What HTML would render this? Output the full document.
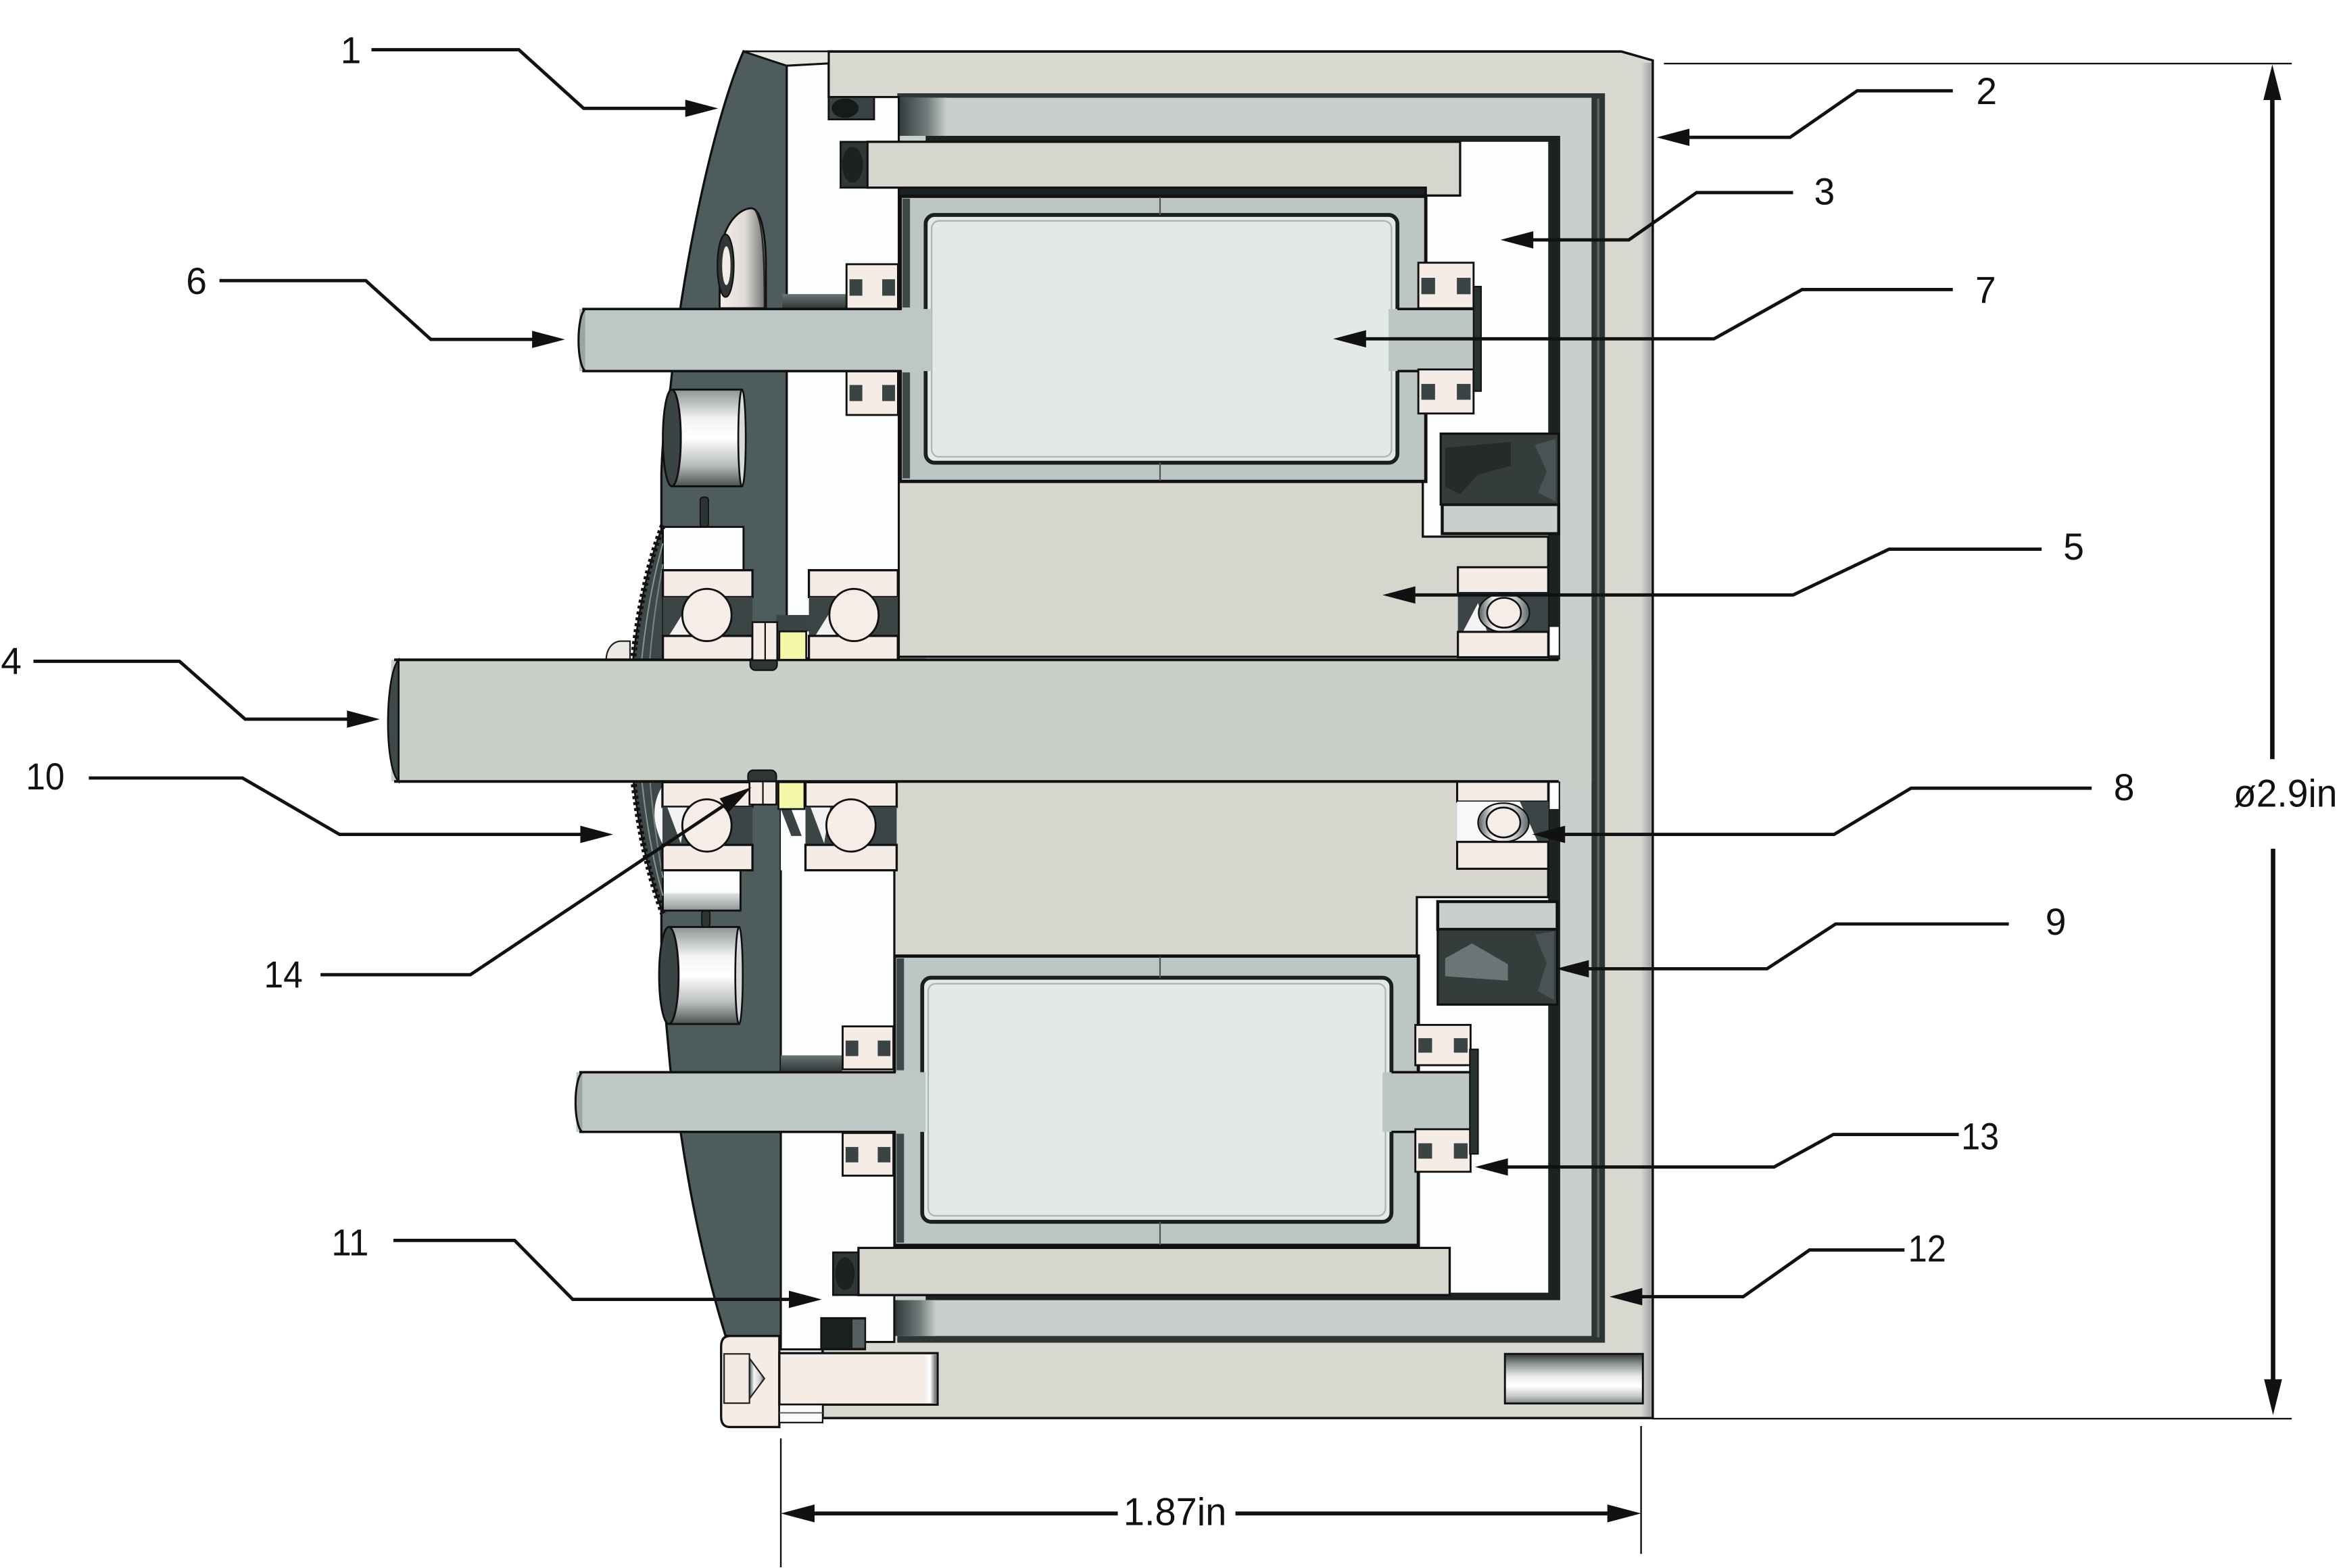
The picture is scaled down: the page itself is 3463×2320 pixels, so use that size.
<!DOCTYPE html>
<html><head><meta charset="utf-8"><style>
html,body{margin:0;padding:0;background:#fff;}
svg{display:block;}
text{font-family:"Liberation Sans",Arial,sans-serif;fill:#111;}
</style></head><body>
<svg width="3463" height="2320" viewBox="0 0 1568 1050.44" preserveAspectRatio="none" xmlns="http://www.w3.org/2000/svg">
<defs>
<linearGradient id="gDarkH" x1="0" y1="0" x2="1" y2="0"><stop offset="0" stop-color="#2f3838"/><stop offset="0.6" stop-color="#6f7a7a"/><stop offset="1" stop-color="#c9cfca"/></linearGradient>
<linearGradient id="gStub" x1="0" y1="0" x2="0" y2="1"><stop offset="0" stop-color="#6a7474"/><stop offset="1" stop-color="#2c3333"/></linearGradient>
<linearGradient id="gPin" x1="0" y1="0" x2="0" y2="1"><stop offset="0" stop-color="#8d9494"/><stop offset="0.3" stop-color="#f2f3f3"/><stop offset="0.5" stop-color="#ffffff"/><stop offset="0.78" stop-color="#b9bdbd"/><stop offset="1" stop-color="#4b5252"/></linearGradient>
<linearGradient id="gHole" x1="0" y1="0" x2="0" y2="1"><stop offset="0" stop-color="#2f3737"/><stop offset="0.2" stop-color="#8d9494"/><stop offset="0.45" stop-color="#e9ebeb"/><stop offset="0.65" stop-color="#ffffff"/><stop offset="0.85" stop-color="#c5c9c9"/><stop offset="1" stop-color="#7c8383"/></linearGradient>
<linearGradient id="gScrew" x1="0" y1="0" x2="1" y2="0"><stop offset="0" stop-color="#f4eeea"/><stop offset="0.55" stop-color="#dedad7"/><stop offset="1" stop-color="#6d7171"/></linearGradient>
<linearGradient id="gRing" x1="0" y1="0" x2="1" y2="0"><stop offset="0" stop-color="#555d5d"/><stop offset="0.3" stop-color="#f5f5f5"/><stop offset="0.7" stop-color="#d0d3d3"/><stop offset="1" stop-color="#5b6363"/></linearGradient>
<linearGradient id="gEndH" x1="0" y1="0" x2="1" y2="0"><stop offset="0" stop-color="#f6ece6"/><stop offset="0.5" stop-color="#ffffff"/><stop offset="1" stop-color="#5d6464"/></linearGradient>
<linearGradient id="gEdge" x1="0" y1="0" x2="1" y2="0"><stop offset="0" stop-color="#d8d8d0"/><stop offset="1" stop-color="#9ea3a0"/></linearGradient>
<linearGradient id="gBlockV" x1="0" y1="0" x2="0" y2="1"><stop offset="0" stop-color="#fcfdfd"/><stop offset="0.55" stop-color="#fcfdfd"/><stop offset="0.6" stop-color="#d8dcdc"/><stop offset="1" stop-color="#8e9696"/></linearGradient>
</defs>
<rect width="1568" height="1050.44" fill="#fff"/>

<!-- Housing -->
<path d="M555,34.5 L1086,34.5 L1107,40.5 L1107,950 L551,950 L551,899 L555,899 Z" fill="#d8d8d0" stroke="#111" stroke-width="1.6"/>
<rect x="1099" y="42" width="7" height="907" fill="url(#gEdge)"/>
<rect x="601" y="62.5" width="474" height="837" fill="#2e3535"/>
<line x1="1070.5" y1="66" x2="1070.5" y2="896" stroke="#5a6464" stroke-width="1.5"/>
<rect x="601" y="65.5" width="465" height="829.5" fill="#c9cfca"/>
<rect x="620" y="91" width="425" height="780" fill="#1c2121"/>
<rect x="620" y="95" width="417" height="771" fill="#fcfdfd"/>
<rect x="601" y="65.5" width="33" height="25.5" fill="url(#gDarkH)"/>
<rect x="599" y="871" width="28" height="24" fill="url(#gDarkH)"/>
<rect x="601" y="125" width="354" height="7" fill="#1c2121"/>

<!-- Rotor bodies -->
<path d="M601,322 H953 V359.5 H1037 V440 H601 Z" fill="#d6d6ce" stroke="#111" stroke-width="1.5"/>
<path d="M599,523.5 H1037 V601 H949 V640.5 H599 Z" fill="#d6d6ce" stroke="#111" stroke-width="1.5"/>

<!-- Liner flanges & seals (9) -->
<rect x="966" y="338" width="78" height="19.5" fill="#c9cfca" stroke="#111" stroke-width="2"/>
<rect x="965" y="290.5" width="79" height="47.5" fill="#353c3c" stroke="#111" stroke-width="1.5"/>
<path d="M968,300 L1012,296 L1012,312 L990,318 L978,331 L968,326 Z" fill="#252b2b"/>
<path d="M1028,298 L1042,294 L1042,336 L1030,330 L1036,316 Z" fill="#4a5353"/>
<rect x="963" y="604" width="80" height="18.6" fill="#c9cfca" stroke="#111" stroke-width="2"/>
<rect x="963" y="622.6" width="80" height="50.4" fill="#353c3c" stroke="#111" stroke-width="1.5"/>
<path d="M968,642 L986,632 L1010,646 L1010,657 L968,654 Z" fill="#6c7575"/>
<path d="M1028,626 L1041,624 L1041,670 L1030,664 L1036,645 Z" fill="#4a5353"/>

<!-- Bearing 8 upper -->
<rect x="976.5" y="380" width="60.5" height="17.3" fill="#f6ece6" stroke="#111" stroke-width="1.4"/>
<rect x="976.5" y="397.3" width="60.5" height="26" fill="#3b4545"/>
<path d="M980,423 L990,404 L996,423 Z" fill="#f4f4f4"/>
<ellipse cx="1007.4" cy="410.5" rx="17" ry="13" fill="url(#gRing)" stroke="#111" stroke-width="1"/>
<ellipse cx="1007.4" cy="410.5" rx="11.3" ry="10" fill="#f7ede8" stroke="#111" stroke-width="1.2"/>
<rect x="976.5" y="423.3" width="60.5" height="17" fill="#f6ece6" stroke="#111" stroke-width="1.4"/>
<rect x="1038" y="420" width="6" height="19" fill="#fcfdfd"/>
<!-- Bearing 8 lower -->
<rect x="976" y="520" width="61" height="17" fill="#f6ece6" stroke="#111" stroke-width="1.4"/>
<rect x="976" y="537" width="61" height="27" fill="#f8f8f8"/>
<path d="M1018,537 L1037,537 L1037,564 L1030,564 Z" fill="#3b4545"/>
<ellipse cx="1007" cy="551" rx="17" ry="13" fill="url(#gRing)" stroke="#111" stroke-width="1"/>
<ellipse cx="1007" cy="551" rx="11.3" ry="10" fill="#f7ede8" stroke="#111" stroke-width="1.2"/>
<rect x="976" y="564" width="61" height="18" fill="#f6ece6" stroke="#111" stroke-width="1.4"/>
<rect x="1038" y="524" width="6" height="18" fill="#fcfdfd"/>

<!-- Coil frames -->
<rect x="603" y="131.5" width="352" height="191" fill="#bcc6c5" stroke="#111" stroke-width="2.2"/>
<rect x="604.5" y="133" width="5" height="73" fill="#3e4848"/>
<rect x="604.5" y="249.5" width="5" height="71" fill="#3e4848"/>
<rect x="620" y="144" width="316" height="166" rx="6" fill="#e3e9e7" stroke="#1a1f1f" stroke-width="2.6"/>
<rect x="624" y="148" width="308" height="158" rx="5" fill="none" stroke="#aab4b3" stroke-width="1"/>
<line x1="777" y1="132" x2="777" y2="144" stroke="#555" stroke-width="1"/>
<line x1="777" y1="310" x2="777" y2="322" stroke="#555" stroke-width="1"/>
<rect x="930" y="207" width="60" height="41.6" fill="#bcc6c5"/>
<path d="M936,207 H990 V248.6 H936" fill="none" stroke="#111" stroke-width="1.6"/>

<rect x="599" y="640.5" width="351" height="193.8" fill="#bcc6c5" stroke="#111" stroke-width="2.2"/>
<rect x="600.5" y="642" width="5" height="75" fill="#3e4848"/>
<rect x="600.5" y="759.5" width="5" height="73" fill="#3e4848"/>
<rect x="617.7" y="655" width="314.3" height="163.5" rx="6" fill="#e3e9e7" stroke="#1a1f1f" stroke-width="2.6"/>
<rect x="621.7" y="659" width="306.3" height="155.5" rx="5" fill="none" stroke="#aab4b3" stroke-width="1"/>
<line x1="777" y1="641" x2="777" y2="655" stroke="#555" stroke-width="1"/>
<line x1="777" y1="818.5" x2="777" y2="834" stroke="#555" stroke-width="1"/>
<rect x="926" y="718.3" width="61" height="40" fill="#bcc6c5"/>
<path d="M932,718.3 H987 V758.3 H932" fill="none" stroke="#111" stroke-width="1.6"/>

<!-- right small bearings + clips -->
<rect x="950" y="176" width="37" height="30.5" fill="#f6ece6" stroke="#111" stroke-width="1.3"/>
<rect x="952" y="186.1" width="9.2" height="11" fill="#3a4444"/><rect x="975.8" y="186.1" width="9.2" height="11" fill="#3a4444"/>
<rect x="950" y="247.5" width="37" height="29.5" fill="#f6ece6" stroke="#111" stroke-width="1.3"/>
<rect x="952" y="257.2" width="9.2" height="10.6" fill="#3a4444"/><rect x="975.8" y="257.2" width="9.2" height="10.6" fill="#3a4444"/>
<rect x="987" y="192" width="5" height="70" fill="#2a3232" stroke="#111" stroke-width="1"/>
<rect x="948" y="686.6" width="37" height="27" fill="#f6ece6" stroke="#111" stroke-width="1.3"/>
<rect x="950" y="695.5" width="9.2" height="9.7" fill="#3a4444"/><rect x="973.8" y="695.5" width="9.2" height="9.7" fill="#3a4444"/>
<rect x="948" y="756.5" width="37" height="28.5" fill="#f6ece6" stroke="#111" stroke-width="1.3"/>
<rect x="950" y="765.9" width="9.2" height="10.3" fill="#3a4444"/><rect x="973.8" y="765.9" width="9.2" height="10.3" fill="#3a4444"/>
<rect x="984.5" y="703" width="5.5" height="70" fill="#2a3232" stroke="#111" stroke-width="1"/>

<!-- Flange (1) -->
<path d="M498,34.4 L527,44 L527,442 L523,442 L523,895 L486,895 C472,850 462,800 456,759 L449,716 L443,650 L443,317 C444,290 446,275 449,260 C458,170 480,75 498,34.4 Z" fill="#4e5c5e" stroke="#111" stroke-width="1.5"/>
<path d="M498,34.4 L555,34.4 L555,42.5 L527,44 Z" fill="#e6e7e3" stroke="#111" stroke-width="1.2"/>

<!-- Bracket white -->
<path d="M527,44 L555,42.5 L555,65 L602,65 L602,441 L527,441 Z" fill="#fcfdfd" stroke="#111" stroke-width="1.4"/>
<path d="M523,523.5 L599,523.5 L599,899 L551,899 L551,904 L523,904 Z" fill="#fcfdfd" stroke="#111" stroke-width="1.4"/>

<!-- Rotor bands (after bracket) -->
<path d="M581,95 H978 V131 H955 V125.7 H581 Z" fill="#d6d6ce" stroke="#111" stroke-width="1.5"/>
<path d="M575,836 H971 V867.6 H575 Z" fill="#d6d6ce" stroke="#111" stroke-width="1.5"/>

<!-- O-rings -->
<rect x="555" y="65" width="30.5" height="15" fill="#3a4343" stroke="#111" stroke-width="1.2"/>
<ellipse cx="566" cy="72.5" rx="9" ry="6.5" fill="#151a1a"/>
<rect x="563" y="95" width="18" height="30.7" fill="#2f3737" stroke="#111" stroke-width="1.2"/>
<ellipse cx="571" cy="110.3" rx="7" ry="12" fill="#1c2222"/>
<rect x="558" y="839" width="17" height="28.6" fill="#2f3737" stroke="#111" stroke-width="1.2"/>
<ellipse cx="566" cy="853.3" rx="6.5" ry="11" fill="#1c2222"/>
<rect x="550" y="883" width="29.5" height="21" fill="#1a1f1f" stroke="#111" stroke-width="1.2"/>
<rect x="571" y="884" width="8" height="19" fill="#555f5f"/>

<!-- dark stubs -->
<rect x="524" y="197" width="43" height="10" fill="url(#gStub)"/>
<rect x="523" y="707" width="41" height="11.3" fill="url(#gStub)"/>

<!-- left small bearings -->
<rect x="567" y="177" width="34.5" height="30.5" fill="#f6ece6" stroke="#111" stroke-width="1.3"/>
<rect x="569" y="187.1" width="8.6" height="11" fill="#3a4444"/><rect x="590.9" y="187.1" width="8.6" height="11" fill="#3a4444"/>
<rect x="567" y="248" width="34.5" height="30" fill="#f6ece6" stroke="#111" stroke-width="1.3"/>
<rect x="569" y="257.9" width="8.6" height="10.8" fill="#3a4444"/><rect x="590.9" y="257.9" width="8.6" height="10.8" fill="#3a4444"/>
<rect x="564.4" y="687.6" width="34" height="28.8" fill="#f6ece6" stroke="#111" stroke-width="1.3"/>
<rect x="566.4" y="697.1" width="8.5" height="10.4" fill="#3a4444"/><rect x="587.9" y="697.1" width="8.5" height="10.4" fill="#3a4444"/>
<rect x="564.4" y="759" width="34" height="28.6" fill="#f6ece6" stroke="#111" stroke-width="1.3"/>
<rect x="566.4" y="768.4" width="8.5" height="10.3" fill="#3a4444"/><rect x="587.9" y="768.4" width="8.5" height="10.3" fill="#3a4444"/>

<!-- Shafts 6 -->
<rect x="388" y="207" width="236" height="41.6" fill="#bcc7c6"/>
<line x1="390" y1="207" x2="604" y2="207" stroke="#111" stroke-width="1.6"/>
<line x1="390" y1="248.6" x2="604" y2="248.6" stroke="#111" stroke-width="1.6"/>
<path d="M392,207 C386,212 386,244 392,248.6" fill="#9aa5a4" stroke="#111" stroke-width="1.4"/>
<rect x="386" y="718.3" width="234" height="40" fill="#bcc7c6"/>
<line x1="388" y1="718.3" x2="600" y2="718.3" stroke="#111" stroke-width="1.6"/>
<line x1="388" y1="758.3" x2="600" y2="758.3" stroke="#111" stroke-width="1.6"/>
<path d="M390,718.3 C384,723 384,754 390,758.3" fill="#9aa5a4" stroke="#111" stroke-width="1.4"/>

<!-- Screw head on flange -->
<path d="M482,206.5 L482,178 C482,152 494,140 503,139.5 C510,139.5 513,158 513,178 L513,206.5 Z" fill="url(#gScrew)" stroke="#111" stroke-width="1.3"/>
<path d="M506,141 C511,150 512,170 512,206" fill="none" stroke="#222" stroke-width="1"/>
<ellipse cx="486" cy="178" rx="5.5" ry="21" fill="#2e3636" stroke="#111" stroke-width="1"/>
<ellipse cx="486.5" cy="178" rx="2.8" ry="13" fill="#f3ece8"/>

<!-- cylinder pins -->
<rect x="450" y="261" width="47" height="64.8" fill="url(#gPin)" stroke="#111" stroke-width="1.3"/>
<ellipse cx="497" cy="293.4" rx="2.5" ry="32.4" fill="#d7dada" stroke="#111" stroke-width="1.2"/>
<ellipse cx="450" cy="293.4" rx="6" ry="32.4" fill="#3a4444" stroke="#111" stroke-width="1.3"/>
<rect x="448" y="621" width="47" height="65" fill="url(#gPin)" stroke="#111" stroke-width="1.3"/>
<ellipse cx="495" cy="653.5" rx="2.5" ry="32.5" fill="#d7dada" stroke="#111" stroke-width="1.2"/>
<ellipse cx="448" cy="653.5" rx="6.5" ry="32.5" fill="#3a4444" stroke="#111" stroke-width="1.3"/>
<rect x="469" y="333" width="5.5" height="20" rx="2" fill="#2c3434" stroke="#111" stroke-width="0.8"/>
<rect x="470" y="610" width="5.5" height="11" rx="2" fill="#2c3434" stroke="#111" stroke-width="0.8"/>

<!-- white blocks -->
<rect x="444" y="353" width="54" height="29" fill="#fcfdfd" stroke="#111" stroke-width="1.3"/>
<rect x="443" y="583" width="53" height="27" fill="url(#gBlockV)" stroke="#111" stroke-width="1.3"/>

<!-- Gear (10) -->
<path d="M444,352 C433,380 424,420 421,482 C424,540 432,580 444,612 Z" fill="#3d4848" stroke="#111" stroke-width="1.2"/>
<path d="M444,352 C433,380 424,420 421,482 C424,540 432,580 444,612" fill="none" stroke="#111" stroke-width="4" stroke-dasharray="2 2"/>
<path d="M444,364 C436,392 429,432 427,482 C429,532 436,572 444,600" fill="none" stroke="#8a9595" stroke-width="0.9"/>
<path d="M444,378 C439,404 434,440 433,482 C434,524 439,560 444,588" fill="none" stroke="#7a8585" stroke-width="0.9"/>
<path d="M406,442.5 C406,434 411,429.5 416,429.5 L422,429.5 L422,442.5 Z" fill="#ece8e4" stroke="#222" stroke-width="1"/>
<path d="M444,526 C437,537 436,550 444,566 Z" fill="#f6f6f6"/>

<!-- Main shaft (4) -->
<rect x="262" y="442" width="804" height="81.5" fill="#cacfc8"/>
<line x1="264" y1="442" x2="1044" y2="442" stroke="#111" stroke-width="1.8"/>
<line x1="264" y1="523.5" x2="1044" y2="523.5" stroke="#111" stroke-width="1.8"/>
<path d="M267,442 C258,452 257,513 267,523.5 Z" fill="#3f4949" stroke="#111" stroke-width="1.2"/>

<!-- Bearings 10 upper -->
<rect x="444" y="382" width="60" height="18" fill="#f6ece6" stroke="#111" stroke-width="1.5"/>
<rect x="444" y="400" width="60" height="26" fill="#3b4545"/>
<path d="M448,426 L458,410 L462,426 Z" fill="#f2f2f2"/>
<rect x="444" y="426" width="60" height="16" fill="#f6ece6" stroke="#111" stroke-width="1.5"/>
<ellipse cx="473.5" cy="412" rx="16.5" ry="17.5" fill="#f7ede8" stroke="#111" stroke-width="1.3"/>
<rect x="541.8" y="382" width="59.6" height="18" fill="#f6ece6" stroke="#111" stroke-width="1.5"/>
<rect x="541.8" y="400" width="59.6" height="26" fill="#3b4545"/>
<path d="M546,426 L556,410 L560,426 Z" fill="#f2f2f2"/>
<rect x="541.8" y="426" width="59.6" height="16" fill="#f6ece6" stroke="#111" stroke-width="1.5"/>
<ellipse cx="572" cy="412" rx="16.5" ry="17.5" fill="#f7ede8" stroke="#111" stroke-width="1.3"/>
<!-- collar 14 / key upper -->
<rect x="520" y="412" width="22" height="11" fill="#3a4444"/>
<rect x="502.5" y="440" width="18" height="9" rx="3.5" fill="#2e3636" stroke="#111" stroke-width="1"/>
<rect x="504" y="416.8" width="16.6" height="25.5" fill="#f6ece6" stroke="#111" stroke-width="1.2"/>
<line x1="512.5" y1="417" x2="512.5" y2="442" stroke="#111" stroke-width="1"/>
<rect x="522" y="423" width="18" height="19" fill="#f4f8a8" stroke="#111" stroke-width="1.2"/>

<!-- Bearings 10 lower -->
<rect x="523" y="542" width="16.5" height="41" fill="#fcfdfd"/>
<path d="M523,542 L530,542 L537,560 L530,560 Z" fill="#3a4444"/>
<rect x="443.7" y="524" width="60.3" height="16.5" fill="#f6ece6" stroke="#111" stroke-width="1.5"/>
<rect x="443.7" y="540.5" width="60.3" height="25.5" fill="#3b4545"/>
<path d="M447,541 L460,541 L456,565 Z" fill="#f2f2f2"/>
<rect x="443.7" y="566" width="60.3" height="17" fill="#f6ece6" stroke="#111" stroke-width="1.5"/>
<ellipse cx="473.5" cy="553" rx="16.5" ry="17.5" fill="#f7ede8" stroke="#111" stroke-width="1.3"/>
<rect x="539.5" y="524" width="61.1" height="16.5" fill="#f6ece6" stroke="#111" stroke-width="1.5"/>
<rect x="539.5" y="540.5" width="61.1" height="25.5" fill="#3b4545"/>
<path d="M543,541 L556,541 L552,565 Z" fill="#f2f2f2"/>
<rect x="539.5" y="566" width="61.1" height="17" fill="#f6ece6" stroke="#111" stroke-width="1.5"/>
<ellipse cx="570" cy="553" rx="16.5" ry="17.5" fill="#f7ede8" stroke="#111" stroke-width="1.3"/>
<rect x="501" y="516" width="19" height="9" rx="3.5" fill="#2e3636" stroke="#111" stroke-width="1"/>
<rect x="502" y="523.5" width="18" height="15.5" fill="#f6ece6" stroke="#111" stroke-width="1.2"/>
<line x1="511" y1="523.5" x2="511" y2="539" stroke="#111" stroke-width="1"/>
<rect x="521.4" y="524" width="17.4" height="18" fill="#f4f8a8" stroke="#111" stroke-width="1.2"/>

<!-- Bolt (bottom) -->
<path d="M489,895 H522 V956 H489 Q483,956 483,949 V902 Q483,895 489,895 Z" fill="#f6ece6" stroke="#111" stroke-width="1.5"/>
<rect x="485" y="907" width="17" height="33" fill="#f3e9e3" stroke="#222" stroke-width="1"/>
<path d="M502,910 L512,923.5 L502,937 Z" fill="url(#gRing)" stroke="#222" stroke-width="1"/>
<rect x="522" y="906.5" width="106" height="34.5" fill="#f6ece6" stroke="#111" stroke-width="1.5"/>
<rect x="619" y="907.5" width="8" height="32.5" fill="url(#gEndH)"/>
<rect x="522" y="941" width="29" height="12" fill="#fafafa" stroke="#111" stroke-width="1"/>
<line x1="522" y1="946.5" x2="551" y2="946.5" stroke="#555" stroke-width="0.8"/>
<rect x="1008" y="907" width="92.4" height="33.2" fill="url(#gHole)" stroke="#111" stroke-width="1.3"/>

<!-- Leader lines -->
<g fill="none" stroke="#111" stroke-width="2.2">
<path d="M248.8,33.3 H347.5 L390.9,72.6 H462"/>
<path d="M147,188 H245 L288.6,227.4 H360"/>
<path d="M22.4,443 H120.2 L164.2,481.8 H234"/>
<path d="M59.5,521.2 H162.4 L227.4,559 H390"/>
<path d="M214.7,653 H315 L488,537.5"/>
<path d="M263.5,831 H344.7 L383.6,870.5 H530"/>
<path d="M1308,60.8 H1244 L1199,92 H1130"/>
<path d="M1201,129 H1136.4 L1091,160.7 H1025"/>
<path d="M1308,194 H1207 L1148,227 H912"/>
<path d="M1367.5,367.9 H1265.3 L1201,398.6 H946"/>
<path d="M1401,528 H1280 L1228.5,559 H1046"/>
<path d="M1345.5,619 H1229.5 L1183.5,649 H1062"/>
<path d="M1312,760 H1228 L1188.3,781.8 H1008"/>
<path d="M1275.6,837.4 H1212 L1167.6,868.7 H1098"/>
</g>
<g fill="#111">
<polygon points="481,72.6 459,66.8 459,78.4"/>
<polygon points="378.4,227.4 356.4,221.6 356.4,233.2"/>
<polygon points="254.4,481.8 232.4,476 232.4,487.6"/>
<polygon points="410.7,559 388.7,553.2 388.7,564.8"/>
<polygon points="503.4,527.3 488.1,544.1 482,534.9"/>
<polygon points="550.4,870.5 528.4,864.7 528.4,876.3"/>
<polygon points="1109.6,92 1131.6,86.2 1131.6,97.8"/>
<polygon points="1005,160.7 1027,154.9 1027,166.5"/>
<polygon points="893,227 915,221.2 915,232.8"/>
<polygon points="926,398.6 948,392.8 948,404.4"/>
<polygon points="1026.3,559 1048.3,553.2 1048.3,564.8"/>
<polygon points="1042.2,649 1064.2,643.2 1064.2,654.8"/>
<polygon points="988,781.8 1010,776 1010,787.6"/>
<polygon points="1078,868.7 1100,862.9 1100,874.5"/>
</g>

<!-- Labels -->
<g font-size="25" text-anchor="middle">
<text x="235" y="42.4">1</text>
<text x="131.6" y="197">6</text>
<text x="7.5" y="451.5">4</text>
<text x="30.3" y="528.8" textLength="26" lengthAdjust="spacingAndGlyphs">10</text>
<text x="189.8" y="661.6" textLength="26" lengthAdjust="spacingAndGlyphs">14</text>
<text x="234.5" y="841" textLength="25" lengthAdjust="spacingAndGlyphs">11</text>
<text x="1330.6" y="69.8">2</text>
<text x="1222" y="137">3</text>
<text x="1330" y="202.9">7</text>
<text x="1389" y="375">5</text>
<text x="1422.7" y="536">8</text>
<text x="1377" y="626.2">9</text>
<text x="1326.3" y="770" textLength="25.3" lengthAdjust="spacingAndGlyphs">13</text>
<text x="1290.8" y="845" textLength="25.5" lengthAdjust="spacingAndGlyphs">12</text>
</g>

<!-- Dimensions -->
<g stroke="#111" fill="none">
<line x1="1114.5" y1="42.6" x2="1535" y2="42.6" stroke-width="1.1"/>
<line x1="1106.5" y1="950.4" x2="1535" y2="950.4" stroke-width="1.1"/>
<line x1="1522" y1="62" x2="1522" y2="508.6" stroke-width="3"/>
<line x1="1522.5" y1="568.6" x2="1522.5" y2="928" stroke-width="3"/>
<line x1="523" y1="963.6" x2="523" y2="1050" stroke-width="1.1"/>
<line x1="1099.2" y1="955.3" x2="1099.2" y2="1041" stroke-width="1.1"/>
<line x1="540" y1="1013.9" x2="748.7" y2="1013.9" stroke-width="2.7"/>
<line x1="827.5" y1="1013.9" x2="1082" y2="1013.9" stroke-width="2.7"/>
</g>
<g fill="#111">
<polygon points="1522,43.2 1516,67 1528,67"/>
<polygon points="1522.5,948 1516.5,924 1528.5,924"/>
<polygon points="523,1013.9 545.6,1007.9 545.6,1019.9"/>
<polygon points="1099.2,1013.9 1076.6,1007.9 1076.6,1019.9"/>
</g>
<text x="787" y="1021.7" font-size="26" text-anchor="middle" textLength="69" lengthAdjust="spacingAndGlyphs">1.87in</text>
<text x="1496" y="540.5" font-size="26" textLength="69.5" lengthAdjust="spacingAndGlyphs">ø2.9in</text>
</svg>
</body></html>
